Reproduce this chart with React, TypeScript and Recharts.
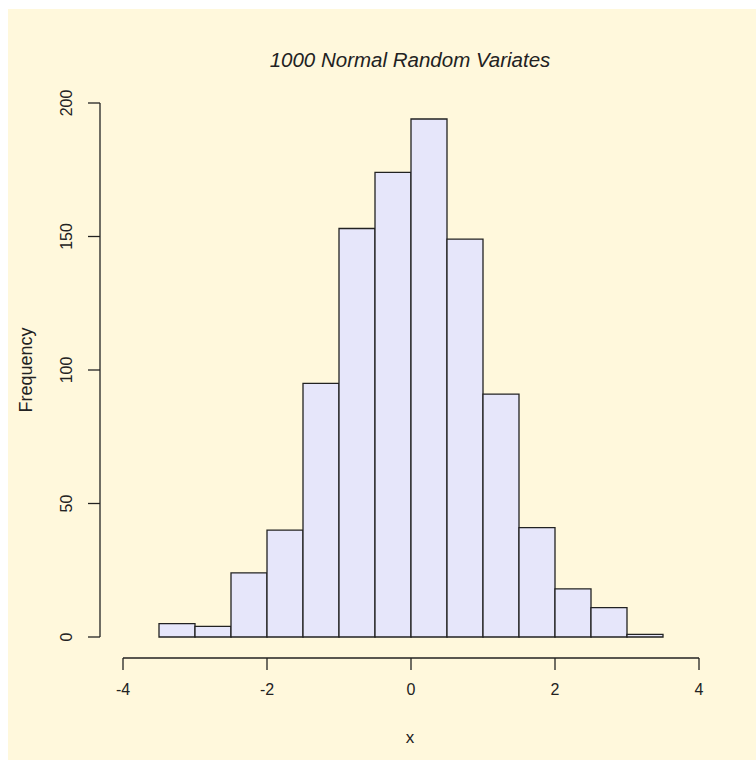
import { BarChart, Bar, XAxis, YAxis, ReferenceLine } from "recharts";

const binStarts = [-3.5, -3, -2.5, -2, -1.5, -1, -0.5, 0, 0.5, 1, 1.5, 2, 2.5, 3];
const counts = [5, 4, 24, 40, 95, 153, 174, 194, 149, 91, 41, 18, 11, 1];
const xTicks = [-4, -2, 0, 2, 4];
const yTicks = [0, 50, 100, 150, 200];

const data = binStarts.map((start, i) => ({
  bin: String(start),
  mid: start + 0.25,
  count: counts[i],
}));

const font = "'Liberation Sans', Arial, Helvetica, sans-serif";
const ink = "#222";

// R offsets the x axis 21px below the zero line
const xAxisGap = 21;

const YTick = (props: any) => {
  const { x, y, payload } = props;
  return (
    <text
      x={x}
      y={y}
      transform={`rotate(-90, ${x}, ${y})`}
      textAnchor="middle"
      fontSize={16}
      fontFamily={font}
      fill={ink}
    >
      {payload.value}
    </text>
  );
};

const XTick = (props: any) => {
  const { x, y, payload } = props;
  return (
    <g>
      <line x1={x} x2={x} y1={y + xAxisGap} y2={y + xAxisGap + 12} stroke={ink} strokeWidth={1.3} />
      <text
        x={x}
        y={y + xAxisGap + 26}
        dy="0.71em"
        textAnchor="middle"
        fontSize={16}
        fontFamily={font}
        fill={ink}
      >
        {payload.value}
      </text>
    </g>
  );
};

const App = () => {
  return (
    <div style={{ position: "fixed", inset: 0, background: "#fff" }}>
      <div
        style={{
          position: "absolute",
          left: 8,
          top: 9,
          width: 748,
          height: 751,
          background: "#FFF8DC",
          overflow: "hidden",
          fontFamily: font,
          color: ink,
        }}
      >
        <div
          style={{
            position: "absolute",
            left: 402 - 200,
            top: 39,
            width: 400,
            textAlign: "center",
            fontSize: 20.5,
            fontStyle: "italic",
          }}
        >
          1000 Normal Random Variates
        </div>
        <div
          style={{
            position: "absolute",
            left: 18 - 100,
            top: 361 - 10,
            width: 200,
            height: 20,
            lineHeight: "20px",
            textAlign: "center",
            fontSize: 18,
            transform: "rotate(-90deg)",
          }}
        >
          Frequency
        </div>
        <div
          style={{
            position: "absolute",
            left: 402 - 50,
            top: 719,
            width: 100,
            textAlign: "center",
            fontSize: 17,
          }}
        >
          x
        </div>
        <BarChart
          width={748}
          height={751}
          data={data}
          barCategoryGap={0}
          margin={{ top: 94, right: 57, left: 0, bottom: 63 }}
          style={{ position: "absolute", left: 0, top: 0 }}
        >
          <XAxis
            xAxisId="cat"
            dataKey="bin"
            type="category"
            hide
            height={0}
            padding={{ left: 59, right: 36 }}
          />
          <XAxis
            xAxisId="num"
            dataKey="mid"
            type="number"
            domain={[-4, 4]}
            allowDataOverflow
            ticks={xTicks}
            padding={{ left: 23, right: 0 }}
            axisLine={false}
            tickLine={false}
            tickSize={0}
            tickMargin={0}
            height={60}
            tick={<XTick />}
          />
          <YAxis
            domain={[0, 200]}
            ticks={yTicks}
            axisLine={{ stroke: ink, strokeWidth: 1.3 }}
            tickLine={{ stroke: ink, strokeWidth: 1.3 }}
            tickSize={12}
            tickMargin={16}
            width={92}
            tick={<YTick />}
          />
          <Bar
            xAxisId="cat"
            dataKey="count"
            fill="#E6E6FA"
            stroke={ink}
            strokeWidth={1.3}
            isAnimationActive={false}
          />
          <ReferenceLine
            xAxisId="num"
            segment={[
              { x: -4, y: -xAxisGap / 2.67 },
              { x: 4, y: -xAxisGap / 2.67 },
            ]}
            stroke={ink}
            strokeWidth={1.3}
            ifOverflow="visible"
          />
        </BarChart>
      </div>
    </div>
  );
};

export default App;
